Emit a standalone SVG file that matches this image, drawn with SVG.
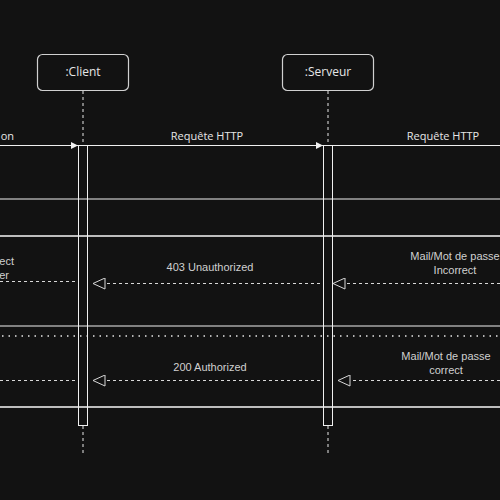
<svg xmlns="http://www.w3.org/2000/svg" width="500" height="500" viewBox="0 0 500 500">
<defs>
<style>
.bg{fill:#121212}
.box{fill:#121212;stroke:#d0d0d0;stroke-width:1.2}
.bar{fill:none;stroke:#f0f0f0;stroke-width:1}
.life{stroke:#e8e8e8;stroke-width:1;stroke-dasharray:3 3;fill:none}
.msg{stroke:#f0f0f0;stroke-width:1;fill:none}
.ret{stroke:#d8d8d8;stroke-width:1;stroke-dasharray:3 3;fill:none}
.frame{stroke:#f0f0f0;stroke-width:1;fill:none}
.frame2{stroke:#bdbdbd;stroke-width:2;fill:none}
.dots{stroke:#e8e8e8;stroke-width:1.5;stroke-dasharray:1.5 5;fill:none}
.t1{font-family:"Open Sans","Liberation Sans",sans-serif;font-size:12px;fill:#e6e6e6;text-anchor:middle}
.t2{font-family:"Open Sans","Liberation Sans",sans-serif;font-size:11px;fill:#e6e6e6;text-anchor:middle}
.t3{font-family:"Liberation Sans",Arial,sans-serif;font-size:11px;fill:#d0d0d0;text-anchor:middle}
.t4{font-family:"Liberation Sans",Arial,sans-serif;font-size:11px;fill:#d0d0d0;text-anchor:end}
</style>
<marker id="fill" markerWidth="8" markerHeight="8" refX="7" refY="4" orient="auto" markerUnits="userSpaceOnUse">
<path d="M0,0.5 L7,4 L0,7.5 Z" fill="#f0f0f0"/>
</marker>
<marker id="open" markerWidth="14" markerHeight="12" refX="13" refY="6" orient="auto" markerUnits="userSpaceOnUse">
<path d="M1,0.5 L13,6 L1,11.5 Z" fill="#121212" stroke="#d8d8d8" stroke-width="1"/>
</marker>
</defs>
<rect class="bg" x="0" y="0" width="500" height="500"/>

<g id="frames">
<line class="frame" x1="0" y1="199" x2="500" y2="199"/>
<line class="frame2" x1="0" y1="236" x2="500" y2="236"/>
<line class="frame" x1="0" y1="326" x2="500" y2="326"/>
<line class="dots" x1="2" y1="336" x2="500" y2="336"/>
<line class="frame2" x1="0" y1="407" x2="500" y2="407"/>
</g>

<g id="client">
<rect class="box" x="37.5" y="54.5" width="91" height="36" rx="5"/>
<text class="t1" x="83" y="76">:Client</text>
<line class="life" x1="83" y1="91" x2="83" y2="145"/>
<line class="life" x1="83" y1="426" x2="83" y2="454"/>
<rect class="bar" x="78.5" y="145.5" width="9" height="280"/>
</g>

<g id="serveur">
<rect class="box" x="282.5" y="54.5" width="91" height="36" rx="5"/>
<text class="t1" x="328" y="76">:Serveur</text>
<line class="life" x1="328" y1="91" x2="328" y2="145"/>
<line class="life" x1="328" y1="426" x2="328" y2="454"/>
<rect class="bar" x="323.5" y="145.5" width="9" height="280"/>
</g>

<g id="connectors">
<line class="msg" x1="0" y1="145.5" x2="78" y2="145.5" marker-end="url(#fill)"/>
<line class="msg" x1="88" y1="145.5" x2="323" y2="145.5" marker-end="url(#fill)"/>
<line class="msg" x1="333" y1="145.5" x2="500" y2="145.5"/>
<line class="ret" x1="500" y1="283.5" x2="333" y2="283.5" marker-end="url(#open)"/>
<line class="ret" x1="320" y1="283.5" x2="93" y2="283.5" marker-end="url(#open)"/>
<line class="ret" x1="0" y1="281.5" x2="75" y2="281.5"/>
<line class="ret" x1="500" y1="380.5" x2="338" y2="380.5" marker-end="url(#open)"/>
<line class="ret" x1="320" y1="380.5" x2="93" y2="380.5" marker-end="url(#open)"/>
<line class="ret" x1="0" y1="380.5" x2="75" y2="380.5"/>
</g>

<g id="labels">
<text class="t2" x="14" y="140" style="text-anchor:end">on</text>
<text class="t2" x="207" y="140">Requête HTTP</text>
<text class="t2" x="443" y="140">Requête HTTP</text>
<text class="t4" x="14" y="265">ect</text>
<text class="t4" x="9" y="279">er</text>
<text class="t3" x="210" y="271">403 Unauthorized</text>
<text class="t3" x="455" y="260">Mail/Mot de passe</text>
<text class="t3" x="455" y="274">Incorrect</text>
<text class="t3" x="210" y="371">200 Authorized</text>
<text class="t3" x="446" y="360">Mail/Mot de passe</text>
<text class="t3" x="446" y="374">correct</text>
</g>
</svg>
